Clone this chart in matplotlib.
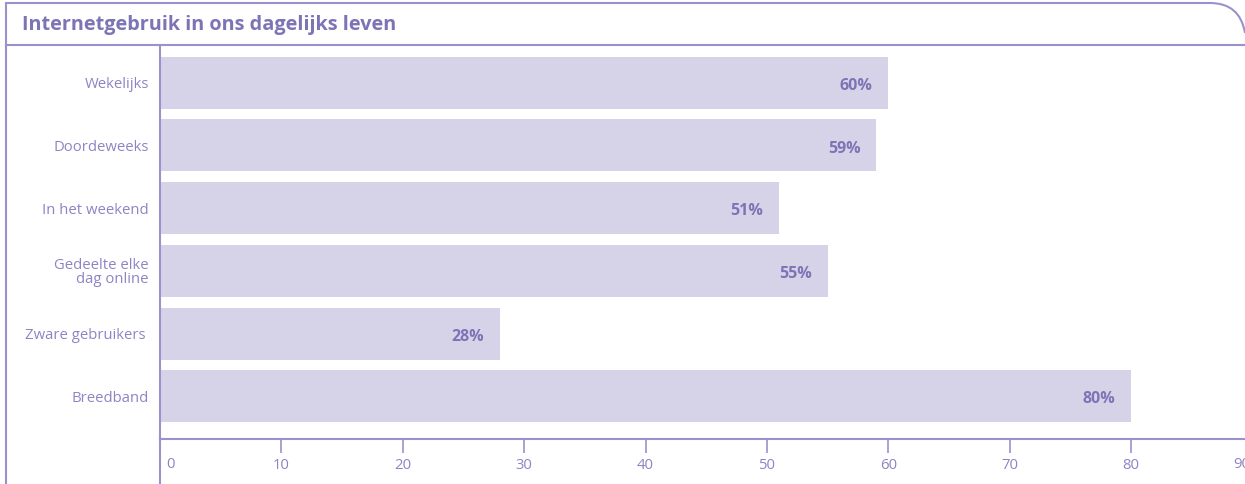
import matplotlib
matplotlib.use("Agg")
import matplotlib.pyplot as plt
from matplotlib.path import Path
from matplotlib.patches import PathPatch
from matplotlib.lines import Line2D

categories = ["Wekelijks", "Doordeweeks", "In het weekend", "Gedeelte elke\ndag online", "Zware gebruikers ", "Breedband"]
values = [60, 59, 51, 55, 28, 80]
xticks = [0, 10, 20, 30, 40, 50, 60, 70, 80, 90]
title = "Internetgebruik in ons dagelijks leven"

plt.rcParams['font.family'] = ['Open Sans', 'DejaVu Sans']

BAR = "#d6d3e9"
LINE = "#9a92cc"
TXT = "#8c84c4"
TXT_DARK = "#7d74b6"

W, H = 1245, 484
fig = plt.figure(figsize=(W / 100, H / 100), dpi=100)

ax = fig.add_axes([160 / W, (H - 439) / H, (W - 160) / W, (439 - 45) / H])
y = list(range(len(categories)))
ax.barh(y, values, height=0.83, color=BAR, zorder=1)
ax.set_ylim(5.68, -0.6)
ax.set_xlim(0, (W - 160) / 12.14)
for yi, v in zip(y, values):
    ax.text(v - 1.3, yi + 0.05, f"{v}%", ha="right", va="center", color=TXT_DARK,
            fontsize=11.5, fontweight="bold")

ax.set_yticks(y)
ax.set_yticklabels(categories, color=TXT, fontsize=10.7, linespacing=0.92)
ax.tick_params(axis="y", length=0, pad=8)
inner = [t for t in xticks if 0 < t < 90]
ax.set_xticks(inner)
ax.set_xticklabels([str(t) for t in inner], color=TXT, fontsize=10.7)
ax.tick_params(axis="x", direction="out", length=10, width=1.2, color=LINE, pad=4)
# end labels (0 sits beside the spine, 90 is cut by the figure edge as in the original)
ax.annotate(str(xticks[0]), xy=(xticks[0], 0), xycoords=("data", "axes fraction"),
            xytext=(11, -18), textcoords="offset pixels", ha="center", va="top",
            color=TXT, fontsize=10.7, annotation_clip=False)
ax.annotate(str(xticks[-1]), xy=(1, 0), xycoords="axes fraction",
            xytext=(-12, -18), textcoords="offset pixels", ha="left", va="top",
            color=TXT, fontsize=10.7, annotation_clip=False)
for s in ["top", "right"]:
    ax.spines[s].set_visible(False)
ax.spines["left"].set_color(LINE)
ax.spines["bottom"].set_color(LINE)
ax.spines["left"].set_linewidth(1.5)
ax.spines["bottom"].set_linewidth(1.5)

# extend left spine to bottom of figure
fig.add_artist(Line2D([160 / W, 160 / W], [0, (H - 439) / H], color=LINE, lw=1.5,
                      transform=fig.transFigure))

def fx(px):
    return px / W

def fy(py):
    return (H - py) / H

r = 30
verts = [(fx(6), fy(484)), (fx(6), fy(3)), (fx(W - r - 5), fy(3)),
         (fx(W - 5), fy(3)), (fx(W), fy(3 + r))]
codes = [Path.MOVETO, Path.LINETO, Path.LINETO, Path.CURVE3, Path.CURVE3]
fig.add_artist(PathPatch(Path(verts, codes), fill=False, edgecolor=LINE, lw=1.5,
                         transform=fig.transFigure))
fig.add_artist(Line2D([fx(6), 1], [fy(45), fy(45)], color=LINE, lw=1.5,
                      transform=fig.transFigure))

fig.text(fx(22), fy(25), title, ha="left", va="center", color=TXT_DARK,
         fontsize=14.3, fontweight="bold")

fig.savefig("out.png", dpi=100)
